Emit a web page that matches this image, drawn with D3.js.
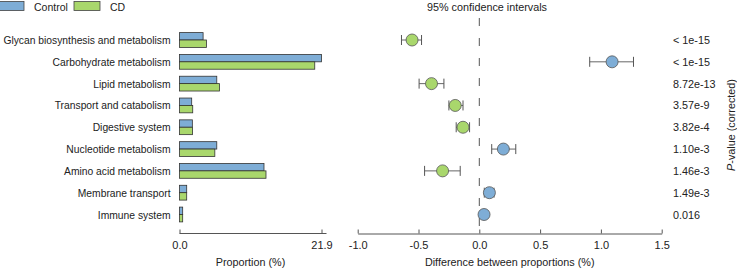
<!DOCTYPE html>
<html>
<head>
<meta charset="utf-8">
<script src="https://cdn.jsdelivr.net/npm/d3@7"></script>
<style>
  body { margin: 0; background: #fff; }
  svg { display: block; font-family: "Liberation Sans", Arial, sans-serif; }
  .axis path, .axis line { stroke: #555; }
  .axis text { font-size: 11px; fill: #222; font-family: "Liberation Sans", Arial, sans-serif; }
</style>
</head>
<body>
<div class="container"></div>
<script>
const WIDTH = 737;
const HEIGHT = 269;

var categories = [
    'Glycan biosynthesis and metabolism',
    'Carbohydrate metabolism',
    'Lipid metabolism',
    'Transport and catabolism',
    'Digestive system',
    'Nucleotide metabolism',
    'Amino acid metabolism',
    'Membrane transport',
    'Immune system'
];
var controlProp = [3.64, 21.9, 5.75, 1.88, 1.98, 5.75, 13.03, 1.11, 0.49];
var cdProp      = [4.15, 20.86, 6.16, 2.04, 2.02, 5.45, 13.34, 1.11, 0.49];
var diff   = [-0.553, 1.092, -0.393, -0.198, -0.134, 0.198, -0.302, 0.083, 0.039];
var ciLow  = [-0.64, 0.908, -0.495, -0.25, -0.19, 0.102, -0.45, 0.041, 0.02];
var ciHigh = [-0.475, 1.268, -0.291, -0.134, -0.08, 0.30, -0.157, 0.121, 0.058];
var pValues = ['< 1e-15', '< 1e-15', '8.72e-13', '3.57e-9', '3.82e-4', '1.10e-3', '1.46e-3', '1.49e-3', '0.016'];
var propTicks = [0, 21.9];
var diffTicks = [-1.0, -0.5, 0.0, 0.5, 1.0, 1.5];

const BLUE = '#7eadd6';
const GREEN = '#a9d76c';
const FS = 10.8;

var translate = function(x, y) {
    return `translate(${x},${y})`;
};

var draw = function() {
    var svg = d3.select('.container').append('svg')
        .attr('width', WIDTH)
        .attr('height', HEIGHT);

    // legend
    var legend = [['Control', BLUE, 0, 34], ['CD', GREEN, 76, 110]];
    legend.forEach(([name, col, x, tx]) => {
        svg.append('rect').attr('x', x - 2).attr('y', 1.5).attr('width', 26).attr('height', 9)
            .attr('fill', col).attr('stroke', '#444').attr('stroke-width', 0.8);
        svg.append('text').attr('x', tx).attr('y', 10.5).attr('font-size', 10.5).attr('fill', '#222').text(name);
    });

    let y = d3.scalePoint()
        .domain(categories)
        .range([40, 214.5]);

    // left: proportions
    let xProp = d3.scaleLinear()
        .domain([0, 21.9])
        .range([179.5, 321.5]);

    svg.append('g').selectAll('text')
        .data(categories)
        .join('text')
        .attr('x', 170.5)
        .attr('y', d => y(d) + 4)
        .attr('text-anchor', 'end')
        .attr('font-size', 10.3)
        .attr('fill', '#222')
        .text(d => d);

    const BH = 7.4;
    var bars = svg.append('g');
    bars.selectAll('rect.c')
        .data(categories)
        .join('rect')
        .attr('class', 'c')
        .attr('x', xProp(0))
        .attr('y', d => y(d) - BH)
        .attr('width', (d, i) => xProp(controlProp[i]) - xProp(0))
        .attr('height', BH)
        .attr('fill', BLUE)
        .attr('stroke', '#333')
        .attr('stroke-width', 0.8);
    bars.selectAll('rect.d')
        .data(categories)
        .join('rect')
        .attr('class', 'd')
        .attr('x', xProp(0))
        .attr('y', d => y(d))
        .attr('width', (d, i) => xProp(cdProp[i]) - xProp(0))
        .attr('height', BH)
        .attr('fill', GREEN)
        .attr('stroke', '#333')
        .attr('stroke-width', 0.8);

    let propAxis = d3.axisTop(xProp).tickValues(propTicks).tickFormat(d3.format('.1f')).tickSize(4).tickSizeOuter(0);
    var ga = svg.append('g')
        .attr('class', 'axis')
        .attr('transform', translate(0, 233.5))
        .call(propAxis);
    ga.select('.domain').attr('d', `M${xProp(0)},0H${xProp(21.9) + 5}`);
    ga.selectAll('text').attr('y', 8).attr('dy', '0.71em');

    svg.append('text').attr('x', (xProp(0) + xProp(21.9)) / 2).attr('y', 266)
        .attr('text-anchor', 'middle').attr('font-size', FS).attr('fill', '#222')
        .text('Proportion (%)');

    // right: difference with CIs
    let xDiff = d3.scaleLinear()
        .domain([-1, 1.5])
        .range([357.7, 661.7]);

    svg.append('line')
        .attr('x1', xDiff(0)).attr('x2', xDiff(0))
        .attr('y1', 18).attr('y2', 228)
        .attr('stroke', '#555').attr('stroke-width', 1)
        .attr('stroke-dasharray', '8,12');

    var ci = svg.append('g');
    ci.selectAll('g')
        .data(categories)
        .join('g')
        .each(function(d, i) {
            var g = d3.select(this);
            var cy = y(d);
            g.append('line').attr('x1', xDiff(ciLow[i])).attr('x2', xDiff(ciHigh[i]))
                .attr('y1', cy).attr('y2', cy).attr('stroke', '#666').attr('stroke-width', 1);
            [ciLow[i], ciHigh[i]].forEach(v => {
                g.append('line').attr('x1', xDiff(v)).attr('x2', xDiff(v))
                    .attr('y1', cy - 5).attr('y2', cy + 5).attr('stroke', '#555').attr('stroke-width', 1);
            });
            g.append('circle').attr('cx', xDiff(diff[i])).attr('cy', cy).attr('r', 6)
                .attr('fill', diff[i] > 0 ? BLUE : GREEN)
                .attr('stroke', '#555').attr('stroke-width', 0.8);
        });

    let diffAxis = d3.axisTop(xDiff).tickValues(diffTicks).tickFormat(d3.format('.1f')).tickSize(4).tickSizeOuter(0);
    var gd = svg.append('g')
        .attr('class', 'axis')
        .attr('transform', translate(0, 233.5))
        .call(diffAxis);
    gd.selectAll('text').attr('y', 8).attr('dy', '0.71em').text(d => d3.format('.1f')(d).replace('\u2212', '-'));

    svg.append('text').attr('x', xDiff(0.25)).attr('y', 266)
        .attr('text-anchor', 'middle').attr('font-size', FS).attr('fill', '#222')
        .text('Difference between proportions (%)');

    svg.append('text').attr('x', 487).attr('y', 11)
        .attr('text-anchor', 'middle').attr('font-size', FS).attr('fill', '#222')
        .text('95% confidence intervals');

    // p-values
    svg.append('g').selectAll('text')
        .data(categories)
        .join('text')
        .attr('x', 673)
        .attr('y', d => y(d) + 4)
        .attr('font-size', FS)
        .attr('fill', '#222')
        .text((d, i) => pValues[i]);

    var pl = svg.append('text')
        .attr('transform', translate(735, 125) + ' rotate(-90)')
        .attr('text-anchor', 'middle')
        .attr('font-size', FS)
        .attr('fill', '#222');
    pl.append('tspan').attr('font-style', 'italic').text('P');
    pl.append('tspan').text('-value (corrected)');
};
window.onload = draw;
</script>
</body>
</html>
